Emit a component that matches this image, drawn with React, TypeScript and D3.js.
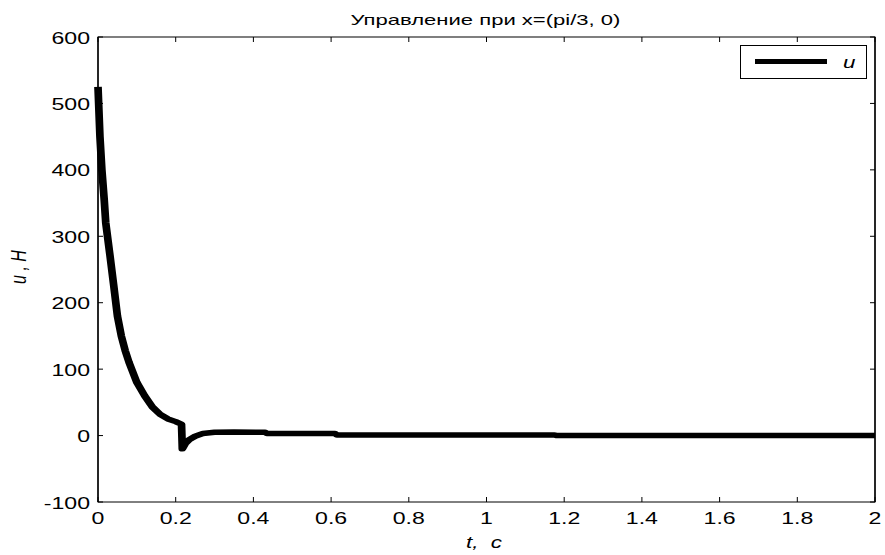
import React from "react";
import * as d3 from "d3";

const tValues = [0, 0.005, 0.01, 0.016, 0.02, 0.03, 0.04, 0.05, 0.06, 0.07, 0.08, 0.1, 0.12, 0.14, 0.16, 0.18, 0.2, 0.215, 0.217, 0.225, 0.235, 0.25, 0.27, 0.3, 0.35, 0.43, 0.435, 0.61, 0.615, 1.175, 1.18, 2];
const uValues = [525, 450, 400, 355, 320, 275, 228, 180, 150, 128, 110, 80, 60, 43, 32, 25, 21, 17, -20, -12, -6, -1, 3, 5, 5.5, 5, 3, 3, 1, 1, 0, 0];
const xTicks = [0, 0.2, 0.4, 0.6, 0.8, 1, 1.2, 1.4, 1.6, 1.8, 2];
const yTicks = [-100, 0, 100, 200, 300, 400, 500, 600];
const titleText = "Управление при x=(pi/3, 0)";
const xLabel = "t,\u00A0 c";
const yLabel = "u , H";
const legendLabel = "u";

const W = 885, H = 555;
const L = 98, R = 875, T = 37, B = 502;
const SX = 1.4;
const font = "'Liberation Sans', Arial, sans-serif";

function SText(props: { x: number; y: number; anchor?: string; size: number; italic?: boolean; sx?: number; children: React.ReactNode }) {
  const { x, y, anchor = "start", size, italic, sx = SX, children } = props;
  return (
    <text
      transform={`translate(${x},${y}) scale(${sx},1)`}
      textAnchor={anchor}
      fontFamily={font}
      fontSize={size}
      fontStyle={italic ? "italic" : "normal"}
      fill="#000"
    >
      {children}
    </text>
  );
}

export default function App() {
  // x scale in an unstretched space; the group is stretched horizontally by SX
  const xs = d3.scaleLinear().domain([0, 2]).range([L / SX, R / SX]);
  const x = d3.scaleLinear().domain([0, 2]).range([L, R]);
  const y = d3.scaleLinear().domain([-100, 600]).range([B, T]);
  const pts: [number, number][] = tValues.map((t, i) => [t, uValues[i]]);
  const line = d3.line<[number, number]>().x(d => xs(d[0])).y(d => y(d[1]));
  const tl = 5;
  return (
    <svg width={W} height={H} style={{ position: "absolute", left: 0, top: 0, background: "#fff" }}>
      <rect x={0} y={0} width={W} height={H} fill="#fff" />
      <SText x={(L + R) / 2 - 1} y={25} anchor="middle" size={15} sx={1.47}>{titleText}</SText>
      <g transform={`scale(${SX},1)`}>
        <path d={line(pts) || ""} fill="none" stroke="#000" strokeWidth={5.5} strokeLinejoin="round" />
      </g>
      <rect x={L} y={T} width={R - L} height={B - T} fill="none" stroke="#000" strokeWidth={1} />
      <line x1={L} x2={L} y1={T} y2={B} stroke="#000" strokeWidth={1.4} />
      <line x1={R} x2={R} y1={T} y2={B} stroke="#000" strokeWidth={1.4} />
      {xTicks.map((t, i) => (
        <g key={"x" + i}>
          <line x1={x(t)} x2={x(t)} y1={B} y2={B - tl} stroke="#000" />
          <line x1={x(t)} x2={x(t)} y1={T} y2={T + tl} stroke="#000" />
          <SText x={x(t)} y={524} anchor="middle" size={16.5}>{String(t)}</SText>
        </g>
      ))}
      {yTicks.map((v, i) => (
        <g key={"y" + i}>
          <line x1={L} x2={L + tl} y1={y(v)} y2={y(v)} stroke="#000" />
          <line x1={R} x2={R - tl} y1={y(v)} y2={y(v)} stroke="#000" />
          <SText x={90} y={y(v) + 6.5} anchor="end" size={16.5}>{String(v)}</SText>
        </g>
      ))}
      <SText x={484} y={548} anchor="middle" size={16} italic>{xLabel}</SText>
      <text
        transform={`translate(26, 267) scale(${SX},1) rotate(-90)`}
        textAnchor="middle"
        fontFamily={font}
        fontSize={16}
        fontStyle="italic"
      >
        {yLabel}
      </text>
      <rect x={740.5} y={45.5} width={126} height={33} fill="#fff" stroke="#000" strokeWidth={1} />
      <line x1={755} x2={827} y1={61.5} y2={61.5} stroke="#000" strokeWidth={5} />
      <SText x={843} y={68} size={16} italic>{legendLabel}</SText>
    </svg>
  );
}
